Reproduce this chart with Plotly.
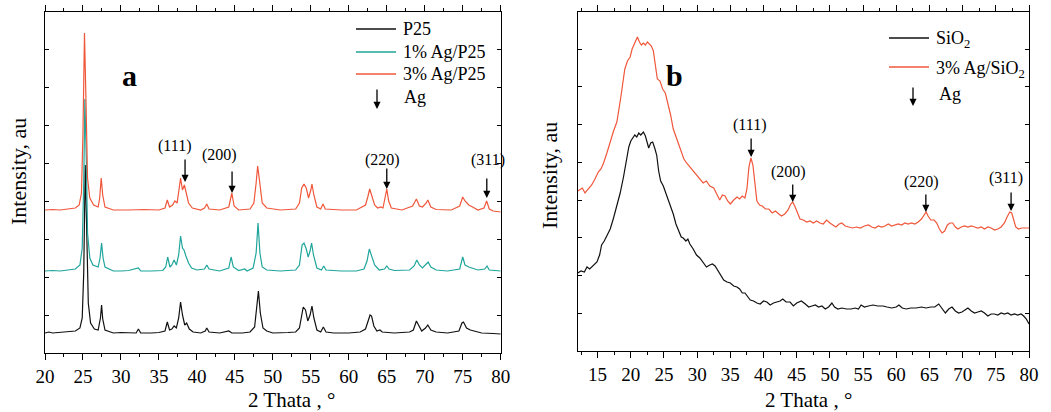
import plotly.graph_objects as go

# ---------------- Panel a data (2θ, intensity a.u.) ----------------
p25_x = [20, 20.5, 21, 22, 23, 24, 24.6, 24.9, 25.1, 25.3, 25.5, 25.7, 26.0, 26.5, 27.0, 27.3, 27.45, 27.6, 27.9,
         29, 30, 31, 32, 32.3, 32.6, 34, 35, 35.8, 36.1, 36.4, 36.7, 37.0, 37.3, 37.6, 37.85, 38.1, 38.4, 38.65,
         39.0, 39.5, 40.5, 41.1, 41.3, 41.6, 43, 44.2, 44.6, 46, 47, 47.6, 47.9, 48.1, 48.35, 48.7, 49.2, 50, 52,
         53, 53.5, 53.8, 54.0, 54.3, 54.6, 54.9, 55.15, 55.4, 55.8, 56.3, 56.65, 57, 58, 60, 61.5, 62.2, 62.6,
         62.8, 63.0, 63.3, 63.7, 64.1, 64.4, 66, 68, 68.5, 68.9, 69.2, 69.6, 70.1, 70.4, 70.8, 71.5, 73, 74.5,
         74.9, 75.1, 75.5, 76, 76.5, 77.5, 79, 80]
p25_y = [20, 21, 20, 20.5, 21, 22, 25, 35, 80, 188, 120, 50, 30, 24, 23, 35, 48, 34, 23,
         20, 20.5, 20, 20, 24, 20, 20, 20.5, 22, 31, 23, 24, 27, 25, 35, 51, 38, 28, 30,
         24, 21, 20, 22, 25, 21, 20, 22, 20, 20, 21, 26, 45, 62, 40, 25, 22, 20, 20.5,
         21, 25, 40, 46, 43, 32, 38, 47, 35, 23, 21, 26, 21, 20, 20, 21, 24, 32,
         38, 37, 27, 22, 23, 21, 20, 21, 23, 32, 27, 22, 25, 28, 23, 21, 20, 22,
         30, 31, 25, 23, 22, 20, 19.5, 19]

ag1_x = [20, 21, 22, 23, 24, 24.6, 24.9, 25.1, 25.25, 25.45, 25.6, 25.9, 26.3, 27.0, 27.25, 27.45, 27.65, 27.9,
         29, 30, 31, 32.3, 32.6, 34, 35.5, 35.9, 36.15, 36.45, 36.7, 37.0, 37.3, 37.6, 37.85, 38.1, 38.3, 38.55,
         38.9, 39.3, 40, 41.0, 41.3, 41.6, 43, 44.2, 44.5, 44.8, 45.5, 46.3, 46.6, 47.4, 47.8, 48.05, 48.3, 48.6,
         49.2, 51, 53, 53.5, 53.85, 54.1, 54.4, 54.65, 54.9, 55.1, 55.35, 55.8, 56.4, 56.7, 57.0, 59, 61, 62,
         62.4, 62.7, 63.0, 63.4, 64, 64.7, 65.0, 65.3, 66, 68, 68.6, 68.95, 69.3, 69.7, 70.2, 70.45, 70.8, 71.5,
         73, 74.6, 75.0, 75.3, 75.8, 76.3, 77, 77.9, 78.2, 78.5, 79.5, 80]
ag1_y = [82, 82.5, 82, 83, 84, 88, 105, 170, 254, 190, 120, 95, 88, 86, 95, 110, 95, 86,
         82, 82, 82.5, 85, 82, 82, 82.5, 86, 96, 86, 88, 93, 88, 98, 117, 105, 103, 97,
         90, 85, 83, 84, 88, 84, 82, 85, 96, 86, 82.5, 84, 82, 85, 100, 130, 100, 86,
         83, 82, 83, 88, 108, 110, 104, 96, 102, 110, 98, 85, 83, 87, 83, 82, 82, 84,
         92, 104, 97, 88, 83, 84, 87, 84, 82.5, 83, 87, 93, 88, 85, 89, 91, 86, 83,
         82, 84, 96, 88, 86, 85, 83, 84, 87, 83, 82, 82]

ag3_x = [20, 21, 22, 23, 24, 24.5, 24.8, 25.0, 25.2, 25.4, 25.6, 25.9, 26.4, 27.0, 27.2, 27.4, 27.6, 27.9,
         29, 31, 33, 35, 35.8, 36.1, 36.4, 36.8, 37.1, 37.4, 37.6, 37.85, 38.1, 38.35, 38.6, 38.9, 39.4, 40.5,
         41.0, 41.3, 41.6, 43, 44.2, 44.6, 44.9, 45.5, 47, 47.5, 47.8, 48.0, 48.25, 48.6, 49.2, 51, 53, 53.5,
         53.8, 54.1, 54.4, 54.7, 55.0, 55.15, 55.4, 55.8, 56.3, 56.6, 56.9, 59, 61, 62.2, 62.5, 62.75, 63.0,
         63.4, 63.8, 64.2, 64.5, 64.75, 65.0, 65.25, 65.6, 67, 68.4, 68.9, 69.3, 69.7, 70.2, 70.4, 70.8, 71.5,
         73.5, 74.6, 75.0, 75.3, 75.8, 76.3, 77, 77.8, 78.15, 78.5, 79, 80]
ag3_y = [143, 143.5, 143, 144, 145, 148, 160, 220, 320, 250, 175, 155, 148, 146, 155, 175, 158, 146,
         143, 143, 143.5, 143, 145, 153, 146, 148, 152, 150, 162, 175, 163, 168, 160, 150, 145, 143,
         145, 149, 144, 143, 146, 160, 147, 143, 144, 150, 170, 187, 172, 150, 145, 143, 144, 150,
         165, 169, 165, 155, 163, 169, 158, 146, 144, 149, 144, 143, 143, 148, 156, 164, 158,
         148, 145, 146, 145, 155, 164, 152, 145, 143, 147, 154, 147, 146, 150, 153, 146, 143.5,
         143, 147, 156, 152, 148, 146, 143, 145, 152, 144, 142, 141]

# ---------------- Panel b data ----------------
sio2_x = [12, 12.5, 13, 13.4, 13.8, 14.3, 14.9, 15.3, 15.6, 16.0, 16.5, 16.9, 17.4, 17.9, 18.4, 18.9, 19.3, 19.7,
          20.0, 20.3, 20.6, 20.9, 21.2, 21.5, 21.9, 22.2, 22.5, 22.7, 23.0, 23.3, 23.6, 23.9, 24.2, 24.5, 24.9,
          25.4, 25.9, 26.4, 26.8, 27.2, 27.6, 27.9, 28.3, 28.6, 28.9, 29.4, 29.9, 30.4, 30.9, 31.4, 31.9, 32.3,
          32.7, 33.2, 33.6, 34.0, 34.5, 35.0, 35.5, 36.0, 36.4, 36.8, 37.2, 37.6, 38.0, 38.5, 39.0, 39.5, 40.0,
          40.5, 41.0, 41.5, 42.0, 42.5, 42.9, 43.4, 44.0, 44.5, 45.0, 45.7, 46.3, 46.8, 47.3, 47.8, 48.3, 48.8,
          49.3, 49.8, 50.3, 50.7, 51.2, 51.8, 52.5, 53.2, 53.8, 54.3, 54.7, 55.2, 55.8, 56.5, 57.2, 58.0, 58.6,
          59.3, 60.0, 60.4, 60.9, 61.5, 62.2, 63.0, 63.8, 64.5, 65.2, 65.8, 66.4, 66.9, 67.4, 67.9, 68.4, 68.9,
          69.4, 69.9, 70.4, 70.8, 71.3, 71.8, 72.3, 72.8, 73.3, 73.8, 74.3, 74.8, 75.3, 75.8, 76.3, 76.8, 77.3,
          77.8, 78.3, 78.8, 79.2, 79.6, 80]
sio2_y = [78, 80, 79, 84, 82, 85, 89, 96, 106, 110, 116, 122, 133, 146, 158, 174, 188, 204,
          210, 213, 216, 214, 218, 216, 219, 215, 208, 203, 208, 209, 203, 196, 180, 170, 165,
          156, 147, 137, 127, 120, 114, 113, 110, 112, 107, 102, 96, 93, 88, 84, 86, 87,
          85, 80, 76, 71, 69, 68, 65, 64, 62, 58, 58, 54, 51, 50, 48, 47, 50,
          49, 46, 48, 49, 50, 52, 49, 49, 45, 48, 50, 47, 44, 45, 46, 44, 45,
          42, 44, 48, 44, 42, 43, 42, 42, 43, 42, 46, 44, 45, 46, 45, 45, 44,
          43, 44, 46, 43, 42, 43, 43, 44, 43, 44, 44, 47, 43, 38, 42, 44, 40,
          38, 39, 41, 43, 40, 38, 39, 40, 38, 35, 37, 37, 36, 38, 37, 38, 36,
          37, 36, 37, 35, 32, 27]

agsio2_x = [12, 12.4, 12.7, 13.1, 13.6, 14.1, 14.6, 15.1, 15.5, 15.9, 16.4, 16.9, 17.4, 17.9, 18.2, 18.5, 18.8,
            19.1, 19.5, 19.9, 20.2, 20.5, 20.8, 21.0, 21.3, 21.6, 21.9, 22.2, 22.5, 22.8, 23.1, 23.4, 23.7, 24.0,
            24.4, 24.8, 25.2, 25.6, 26.0, 26.4, 26.8, 27.2, 27.6, 28.0, 28.4, 28.9, 29.4, 29.9, 30.4, 30.9, 31.4,
            31.9, 32.5, 33.0, 33.4, 33.8, 34.2, 34.6, 35.0, 35.5, 36.0, 36.4, 36.8, 37.2, 37.5, 37.8, 38.1, 38.4,
            38.7, 39.0, 39.4, 39.8, 40.3, 40.8, 41.3, 41.8, 42.3, 42.7, 43.2, 43.7, 44.1, 44.4, 44.7, 45.1, 45.5,
            46.0, 46.5, 47.0, 47.5, 48.0, 48.5, 49.0, 49.5, 50.0, 50.5, 50.9, 51.4, 51.8, 52.3, 52.8, 53.4, 54.0,
            54.6, 55.2, 55.8, 56.3, 56.8, 57.3, 57.8, 58.3, 58.8, 59.3, 59.8, 60.3, 60.8, 61.3, 61.8, 62.3, 62.8,
            63.3, 63.8, 64.2, 64.5, 64.8, 65.2, 65.7, 66.1, 66.5, 66.9, 67.3, 67.7, 68.1, 68.5, 68.9, 69.3, 69.8,
            70.3, 70.8, 71.3, 71.8, 72.3, 72.8, 73.3, 73.8, 74.3, 74.8, 75.3, 75.8, 76.3, 76.7, 77.1, 77.4, 77.7,
            78.0, 78.4, 78.9, 79.4, 80]
agsio2_y = [160, 162, 163, 158, 162, 166, 172, 179, 182, 188, 198, 210, 220, 229, 240, 254, 268,
            282, 290, 294, 302, 307, 312, 314, 309, 306, 308, 306, 309, 307, 305, 300, 285, 272,
            270, 262, 258, 248, 236, 222, 214, 207, 198, 192, 188, 184, 180, 176, 172, 168, 170,
            165, 163, 157, 151, 156, 155, 150, 147, 151, 154, 152, 155, 153, 162, 184, 193, 186,
            165, 150, 146, 145, 142, 142, 138, 140, 137, 135, 137, 141, 147, 149, 145, 138, 132,
            131, 129, 130, 128, 130, 128, 127, 131, 128, 126, 124, 127, 128, 125, 124, 123, 124,
            123, 125, 126, 124, 123, 125, 124, 125, 127, 125, 126, 127, 126, 128, 127, 128, 127,
            129, 132, 136, 139, 135, 131, 131, 128, 122, 118, 120, 126, 128, 128, 124, 122, 124,
            125, 124, 125, 124, 123, 124, 122, 124, 123, 121, 122, 124, 128, 134, 139, 138, 132,
            124, 122, 123, 123, 123]

# Ag reflections: labels, arrow positions (2θ), arrow tail/tip heights, label positions
ag_labels = ["(111)", "(200)", "(220)", "(311)"]
a_arrow_x = [38.44, 44.63, 65.0, 78.17]
a_arrow_tail = [195, 183, 186, 176]
a_arrow_tip = [171, 160, 164, 155]
a_label_x = [37.0, 43.0, 64.5, 78.3]
a_label_y = [207, 198, 193, 193]

b_arrow_x = [38.13, 44.4, 64.46, 77.3]
b_arrow_tail = [214, 168, 158, 160]
b_arrow_tip = [194, 149, 139, 140]
b_label_x = [37.9, 43.8, 63.8, 76.6]
b_label_y = [226, 179, 169, 173]

x_ticks_a = [20, 25, 30, 35, 40, 45, 50, 55, 60, 65, 70, 75, 80]
x_ticks_b = [15, 20, 25, 30, 35, 40, 45, 50, 55, 60, 65, 70, 75, 80]

BLACK = "#111111"
TEAL = "#1fa59b"
ORANGE = "#f0573a"
FONT = "Liberation Serif, Times New Roman, serif"
W, H = 1051, 412

fig = go.Figure()
fig.add_trace(go.Scatter(x=p25_x, y=p25_y, mode="lines", line=dict(color=BLACK, width=1.2),
                         name="P25", xaxis="x", yaxis="y"))
fig.add_trace(go.Scatter(x=ag1_x, y=ag1_y, mode="lines", line=dict(color=TEAL, width=1.2),
                         name="1% Ag/P25", xaxis="x", yaxis="y"))
fig.add_trace(go.Scatter(x=ag3_x, y=ag3_y, mode="lines", line=dict(color=ORANGE, width=1.2),
                         name="3% Ag/P25", xaxis="x", yaxis="y"))
fig.add_trace(go.Scatter(x=sio2_x, y=sio2_y, mode="lines", line=dict(color=BLACK, width=1.2),
                         name="SiO2", xaxis="x2", yaxis="y2"))
fig.add_trace(go.Scatter(x=agsio2_x, y=agsio2_y, mode="lines", line=dict(color=ORANGE, width=1.2),
                         name="3% Ag/SiO2", xaxis="x2", yaxis="y2"))

def px(xp):
    return xp / W

def py(yp):
    return (H - yp) / H

common_x = dict(showline=True, linecolor="black", linewidth=1, mirror="allticks", ticks="outside",
                ticklen=6, tickwidth=1, tickcolor="black", showgrid=False, zeroline=False, automargin=False,
                tickfont=dict(family=FONT, size=19, color="black"),
                minor=dict(dtick=2.5, ticklen=3, tickcolor="black", ticks="outside", showgrid=False))
common_y = dict(showline=True, linecolor="black", linewidth=1, mirror="allticks", ticks="inside",
                ticklen=4, tickwidth=1, tickcolor="black", showgrid=False, zeroline=False, automargin=False,
                showticklabels=False)

fig.update_layout(
    width=W, height=H, margin=dict(l=0, r=0, t=0, b=0, pad=0, autoexpand=False),
    paper_bgcolor="white", plot_bgcolor="white", showlegend=False,
    xaxis=dict(common_x, domain=[px(45), px(500.7)], range=[20, 80], tickvals=x_ticks_a, anchor="y"),
    yaxis=dict(common_y, domain=[py(353), py(12)], range=[0, 341], dtick=38, tick0=0, anchor="x"),
    xaxis2=dict(common_x, domain=[px(577.7), px(1029)], range=[12, 80], tickvals=x_ticks_b, anchor="y2"),
    yaxis2=dict(common_y, domain=[py(351), py(12)], range=[0, 339], dtick=37.75, tick0=0, anchor="x2"),
)

ann = []
shapes = []
for i, lab in enumerate(ag_labels):
    ann.append(dict(x=a_arrow_x[i], y=a_arrow_tip[i], ax=a_arrow_x[i], ay=a_arrow_tail[i],
                    xref="x", yref="y", axref="x", ayref="y", text="", showarrow=True,
                    arrowhead=2, arrowsize=1.1, arrowwidth=1.3, arrowcolor="black"))
    ann.append(dict(x=a_label_x[i], y=a_label_y[i], xref="x", yref="y", text=lab, showarrow=False,
                    font=dict(family=FONT, size=16, color="black")))
    ann.append(dict(x=b_arrow_x[i], y=b_arrow_tip[i], ax=b_arrow_x[i], ay=b_arrow_tail[i],
                    xref="x2", yref="y2", axref="x2", ayref="y2", text="", showarrow=True,
                    arrowhead=2, arrowsize=1.1, arrowwidth=1.3, arrowcolor="black"))
    ann.append(dict(x=b_label_x[i], y=b_label_y[i], xref="x2", yref="y2", text=lab, showarrow=False,
                    font=dict(family=FONT, size=16, color="black")))

# panel letters
ann.append(dict(x=px(120), y=py(57), xref="paper", yref="paper", text="<b>a</b>", showarrow=False,
                font=dict(family=FONT, size=30, color="black")))
ann.append(dict(x=px(674), y=py(57), xref="paper", yref="paper", text="<b>b</b>", showarrow=False,
                font=dict(family=FONT, size=30, color="black")))

# axis titles
for xc in (291, 808):
    ann.append(dict(x=px(xc), y=py(400), xref="paper", yref="paper", xanchor="center", yanchor="middle",
                    text="2 Thata , °", showarrow=False, font=dict(family=FONT, size=21, color="black")))
for xc, yc in ((18, 172), (549, 176)):
    ann.append(dict(x=px(xc), y=py(yc), xref="paper", yref="paper", xanchor="center", yanchor="middle",
                    text="Intensity, au", textangle=-90, showarrow=False,
                    font=dict(family=FONT, size=22, color="black")))

# manual legends
leg_a = [("P25", BLACK, 29), ("1% Ag/P25", TEAL, 52), ("3% Ag/P25", ORANGE, 74)]
for txt, col, yy in leg_a:
    shapes.append(dict(type="line", xref="paper", yref="paper", x0=px(356), x1=px(396), y0=py(yy), y1=py(yy),
                       line=dict(color=col, width=1.3)))
    ann.append(dict(x=px(401), y=py(yy), xref="paper", yref="paper", xanchor="left", yanchor="middle",
                    text=txt, showarrow=False, font=dict(family=FONT, size=18, color="black")))
ann.append(dict(x=px(377), y=py(109), xref="paper", yref="paper", ax=0, ay=-21, text="", showarrow=True,
                arrowhead=2, arrowsize=1.1, arrowwidth=1.3, arrowcolor="black"))
ann.append(dict(x=px(402), y=py(97), xref="paper", yref="paper", xanchor="left", yanchor="middle",
                text="Ag", showarrow=False, font=dict(family=FONT, size=18, color="black")))

leg_b = [("SiO<sub>2</sub>", BLACK, 38), ("3% Ag/SiO<sub>2</sub>", ORANGE, 67)]
for txt, col, yy in leg_b:
    shapes.append(dict(type="line", xref="paper", yref="paper", x0=px(889), x1=px(929), y0=py(yy), y1=py(yy),
                       line=dict(color=col, width=1.3)))
    ann.append(dict(x=px(934), y=py(yy + 2), xref="paper", yref="paper", xanchor="left", yanchor="middle",
                    text=txt, showarrow=False, font=dict(family=FONT, size=18, color="black")))
ann.append(dict(x=px(913), y=py(106), xref="paper", yref="paper", ax=0, ay=-20, text="", showarrow=True,
                arrowhead=2, arrowsize=1.1, arrowwidth=1.3, arrowcolor="black"))
ann.append(dict(x=px(937), y=py(94), xref="paper", yref="paper", xanchor="left", yanchor="middle",
                text="Ag", showarrow=False, font=dict(family=FONT, size=18, color="black")))

fig.update_layout(annotations=ann, shapes=shapes)
fig.write_html("out.html", config={"displayModeBar": False},
               post_script="document.body.style.margin='0';document.body.style.overflow='hidden';")
